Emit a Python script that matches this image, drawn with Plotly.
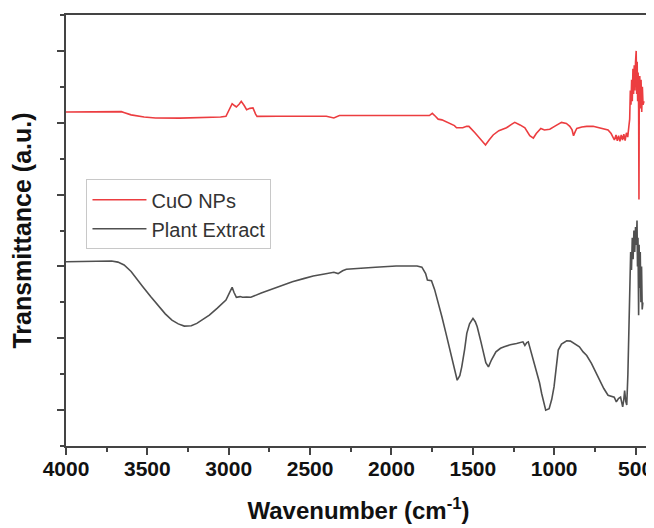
import plotly.graph_objects as go

# ---- data ----
cuo_wavenumber = [4000, 3900, 3800, 3700, 3660, 3640, 3600, 3520, 3450, 3300, 3150, 3050, 3017, 2995,
                  2979, 2965, 2953, 2935, 2923, 2905, 2890, 2870, 2851, 2835, 2826, 2700, 2500, 2400,
                  2354, 2320, 2200, 2000, 1900, 1800, 1767, 1749, 1730, 1713, 1690, 1650, 1613, 1600,
                  1562, 1538, 1524, 1487, 1450, 1422, 1400, 1375, 1340, 1293, 1260, 1242, 1210, 1180,
                  1150, 1128, 1110, 1082, 1060, 1027, 990, 955, 925, 904, 890, 881, 870, 861, 830, 800,
                  761, 720, 690, 669, 650, 638, 630, 620, 612, 604, 596, 588, 580, 572, 564, 556, 548,
                  541, 536, 532, 528, 524, 520, 516, 512, 508, 504, 500, 496, 493, 490, 487, 484, 481,
                  479, 477, 474, 470, 466, 462, 458, 454, 448]
cuo_transmittance = [5.15, 5.15, 5.145, 5.15, 5.155, 5.14, 5.11, 5.08, 5.066, 5.065, 5.07, 5.08, 5.09, 5.18,
                     5.266, 5.24, 5.22, 5.26, 5.298, 5.24, 5.182, 5.20, 5.206, 5.12, 5.089, 5.09, 5.085, 5.09,
                     5.066, 5.10, 5.10, 5.105, 5.10, 5.10, 5.10, 5.13, 5.09, 5.05, 5.04, 5.00, 4.96, 4.93,
                     4.93, 4.95, 4.95, 4.86, 4.76, 4.69, 4.76, 4.83, 4.89, 4.93, 4.98, 5.005, 4.97, 4.93,
                     4.82, 4.787, 4.85, 4.92, 4.90, 4.91, 4.96, 5.005, 4.99, 4.95, 4.90, 4.82, 4.88, 4.92, 4.94, 4.95,
                     4.95, 4.93, 4.92, 4.90, 4.85, 4.80, 4.76, 4.83, 4.75, 4.82, 4.74, 4.83, 4.76, 4.84, 4.75, 4.86, 4.80,
                     4.95, 5.05, 5.45, 5.25, 5.60, 5.30, 5.75, 5.40, 5.80, 5.45, 5.85, 6.00, 5.40, 5.85, 5.30, 5.70, 5.20,
                     3.93, 5.50, 5.65, 5.20, 5.60, 5.15, 5.50, 5.25, 5.30]

plant_wavenumber = [4000, 3900, 3800, 3758, 3720, 3681, 3643, 3600, 3560, 3528, 3480, 3426, 3390, 3349,
                    3310, 3273, 3230, 3196, 3160, 3119, 3070, 3017, 2992, 2979, 2968, 2953, 2930, 2915,
                    2890, 2864, 2800, 2737, 2670, 2609, 2540, 2481, 2420, 2354, 2328, 2300, 2277, 2200,
                    2098, 1971, 1843, 1813, 1790, 1779, 1754, 1735, 1716, 1690, 1665, 1645, 1626, 1610,
                    1596, 1580, 1568, 1550, 1537, 1520, 1499, 1485, 1473, 1450, 1435, 1420, 1404, 1385,
                    1358, 1330, 1307, 1270, 1231, 1205, 1192, 1180, 1168, 1159, 1140, 1120, 1103, 1090,
                    1077, 1065, 1052, 1031, 1015, 1001, 990, 975, 955, 923, 900, 880, 868, 845, 822, 800,
                    771, 745, 720, 695, 669, 650, 631, 618, 605, 592, 579, 572, 567, 560, 554, 547, 541,
                    535, 530, 525, 520, 515, 510, 505, 500, 495, 491, 488, 485, 481, 478, 475, 471, 467,
                    463, 459, 455]
plant_transmittance = [3.066, 3.07, 3.075, 3.08, 3.075, 3.06, 3.02, 2.93, 2.82, 2.718, 2.58, 2.44, 2.34, 2.253,
                       2.20, 2.169, 2.175, 2.207, 2.26, 2.323, 2.42, 2.532, 2.648, 2.709, 2.64, 2.57, 2.58, 2.57,
                       2.575, 2.57, 2.63, 2.681, 2.74, 2.787, 2.83, 2.867, 2.89, 2.918, 2.90, 2.94, 2.96, 2.975,
                       2.988, 3.006, 3.006, 2.99, 2.90, 2.81, 2.80, 2.68, 2.532, 2.30, 2.068, 1.88, 1.695, 1.52,
                       1.416, 1.48, 1.602, 1.85, 2.068, 2.20, 2.277, 2.23, 2.16, 1.95, 1.789, 1.66, 1.602, 1.70,
                       1.811, 1.86, 1.881, 1.91, 1.928, 1.95, 1.95, 1.90, 1.94, 1.95, 1.80, 1.62, 1.51, 1.38,
                       1.231, 1.10, 0.998, 1.02, 1.15, 1.323, 1.55, 1.835, 1.92, 1.965, 1.96, 1.93, 1.92, 1.88, 1.81, 1.76,
                       1.649, 1.53, 1.416, 1.30, 1.207, 1.19, 1.18, 1.114, 1.16, 1.18, 1.044, 1.15, 1.27, 1.12, 1.07, 1.50, 2.07,
                       2.90, 3.20, 2.95, 3.40, 3.10, 3.50, 3.20, 3.55, 3.30, 3.64, 3.00, 3.40, 2.32, 3.30, 2.70, 3.20, 2.50,
                       3.00, 2.40, 2.50]

series_names = ["CuO NPs", "Plant Extract"]
x_tick_values = [4000, 3500, 3000, 2500, 2000, 1500, 1000, 500]

# ---- figure ----
fig = go.Figure()
fig.add_trace(go.Scatter(x=cuo_wavenumber, y=cuo_transmittance, mode="lines",
                         name=series_names[0], line=dict(color="#ec3d40", width=1.6)))
fig.add_trace(go.Scatter(x=plant_wavenumber, y=plant_transmittance, mode="lines",
                         name=series_names[1], line=dict(color="#505050", width=1.6)))

axis_color = "#444444"
# the page body adds an 8px margin, so the figure is 8px smaller and shifted margins compensate
fig.update_layout(
    width=646, height=520,
    margin=dict(l=58, r=3, t=7, b=82, autoexpand=False),
    paper_bgcolor="white", plot_bgcolor="white",
    showlegend=True,
    legend=dict(x=0.035, y=0.619, xanchor="left", yanchor="top",
                bordercolor="#c8c8c8", borderwidth=1, bgcolor="white",
                font=dict(family="Liberation Sans, Arial", size=20, color="#333333"),
                tracegroupgap=0, itemwidth=54),
    font=dict(family="Liberation Sans, Arial", color="#222222"),
)
fig.update_xaxes(
    range=[4000, 405], autorange=False, automargin=False,
    tickmode="array", tickvals=x_tick_values, ticktext=[str(v) for v in x_tick_values],
    ticks="outside", ticklen=7, tickwidth=2, tickcolor=axis_color,
    ticklabelstandoff=-4,
    minor=dict(ticks="outside", ticklen=4, tickwidth=1.5, tickcolor=axis_color, dtick=250, tick0=0),
    showline=True, linewidth=2, linecolor=axis_color, mirror=True,
    showgrid=False, zeroline=False,
    tickfont=dict(family="Liberation Sans, Arial", size=21, weight="bold", color="#111111"),
    title=dict(text="Wavenumber (cm<sup>-1</sup>)", standoff=23,
               font=dict(family="Liberation Sans, Arial", size=24, weight="bold", color="#111111")),
)
fig.update_yaxes(
    range=[0.5, 6.5], autorange=False, automargin=False,
    tick0=0, dtick=1, showticklabels=False,
    ticks="outside", ticklen=7, tickwidth=2, tickcolor=axis_color,
    minor=dict(ticks="outside", ticklen=4, tickwidth=1.5, tickcolor=axis_color, dtick=0.5, tick0=0),
    showline=True, linewidth=2, linecolor=axis_color, mirror=True,
    showgrid=False, zeroline=False,
    title=dict(text="Transmittance (a.u.)", standoff=19,
               font=dict(family="Liberation Sans, Arial", size=25, weight="bold", color="#111111")),
)

fig.write_html("out.html")
